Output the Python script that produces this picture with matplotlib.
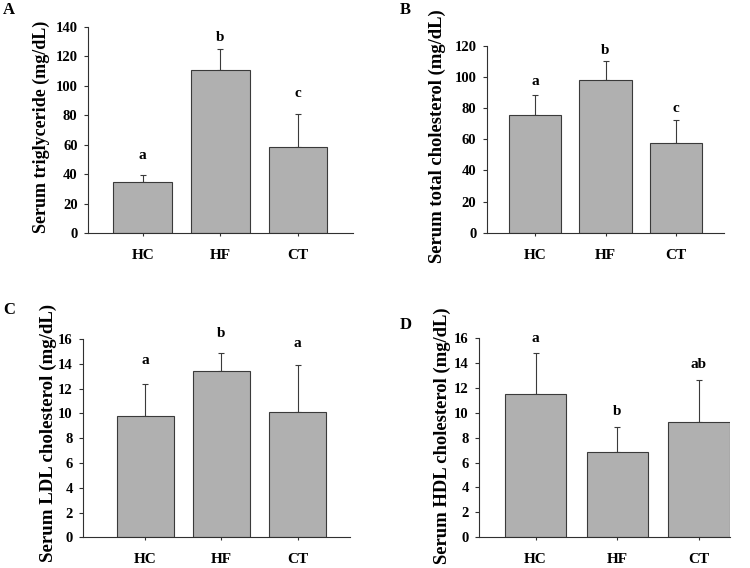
import numpy as np
import matplotlib.pyplot as plt

groups = ['HC', 'HF', 'CT']

tg_mean = [35, 110.6, 58.3]
tg_err = [4.3, 14.5, 22.5]
tg_letters = ['a', 'b', 'c']
tg_letter_y = [53, 133, 94.5]

tc_mean = [75.5, 98.1, 57.9]
tc_err = [13.2, 12.0, 14.5]
tc_letters = ['a', 'b', 'c']
tc_letter_y = [97.5, 117, 80]

ldl_mean = [9.8, 13.45, 10.1]
ldl_err = [2.55, 1.45, 3.8]
ldl_letters = ['a', 'b', 'a']
ldl_letter_y = [14.3, 16.45, 15.6]

hdl_mean = [11.5, 6.88, 9.23]
hdl_err = [3.3, 2.0, 3.4]
hdl_letters = ['a', 'b', 'ab']
hdl_letter_y = [15.95, 10.1, 13.9]

W, H = 750, 568
plt.rcParams['font.family'] = ['Liberation Serif', 'DejaVu Serif']
plt.rcParams['font.weight'] = 'bold'

fig = plt.figure(figsize=(7.5, 5.68), dpi=100)


def px_axes(left, right, bottom, top):
    return fig.add_axes([left / W, 1 - bottom / H, (right - left) / W, (bottom - top) / H])


def panel(ax, means, errs, letters, letter_y, ymax, step, xlim, barw):
    x = np.arange(len(groups))
    ax.bar(x, means, width=barw, color='#b0b0b0', edgecolor='#3a3a3a', linewidth=0.8, zorder=2)
    ax.errorbar(x, means, yerr=[np.zeros(len(errs)), errs], fmt='none', ecolor='#3a3a3a',
                elinewidth=0.8, capsize=2.5, capthick=0.8, zorder=1)
    for xi, lt, ly in zip(x, letters, letter_y):
        ax.text(xi, ly, lt, ha='center', va='center', fontsize=11, fontweight='bold')
    ax.set_ylim(0, ymax)
    ax.set_xlim(*xlim)
    ax.set_yticks(np.arange(0, ymax + step / 2, step))
    ax.set_xticks(x)
    ax.set_xticklabels(groups)
    for s in ['top', 'right']:
        ax.spines[s].set_visible(False)
    for s in ['left', 'bottom']:
        ax.spines[s].set_color('#303030')
        ax.spines[s].set_linewidth(0.8)
    ax.tick_params(axis='y', direction='out', length=3, width=0.8, pad=4.5, labelsize=10.5, colors='#303030',
                   labelcolor='black')
    ax.tick_params(axis='x', direction='out', length=2.5, width=0.8, pad=9, labelsize=11, colors='#303030',
                   labelcolor='black')
    for lab in ax.get_xticklabels() + ax.get_yticklabels():
        lab.set_fontweight('bold')


axA = px_axes(88, 352.7, 233.3, 26.7)
panel(axA, tg_mean, tg_err, tg_letters, tg_letter_y, 140, 20, (-0.704, 2.704), 0.755)

axB = px_axes(486.7, 724.3, 232.7, 46)
panel(axB, tc_mean, tc_err, tc_letters, tc_letter_y, 120, 20, (-0.69, 2.69), 0.747)

axC = px_axes(83.3, 350, 537.3, 339)
panel(axC, ldl_mean, ldl_err, ldl_letters, ldl_letter_y, 16, 2, (-0.816, 2.69), 0.754)

axD = px_axes(479.3, 730, 537.3, 338)
panel(axD, hdl_mean, hdl_err, hdl_letters, hdl_letter_y, 16, 2, (-0.69, 2.38), 0.75)

ylabels = [
    ('Serum triglyceride (mg/dL)', 41.5, 127, 13),
    ('Serum total cholesterol (mg/dL)', 437.5, 136.5, 13.4),
    ('Serum LDL cholesterol (mg/dL)', 48.5, 433, 13.6),
    ('Serum HDL cholesterol (mg/dL)', 442.5, 435.5, 13.4),
]
for txt, xp, yp, fs in ylabels:
    fig.text(xp / W, 1 - yp / H, txt, rotation=90, ha='center', va='center',
             fontsize=fs, fontweight='bold')

panel_tags = [('A', 9, 10), ('B', 405, 10), ('C', 9, 310), ('D', 405.5, 325)]
for txt, xp, yp in panel_tags:
    fig.text(xp / W, 1 - yp / H, txt, ha='center', va='center', fontsize=12, fontweight='bold')

fig.savefig('out.png', dpi=100, facecolor='white')
